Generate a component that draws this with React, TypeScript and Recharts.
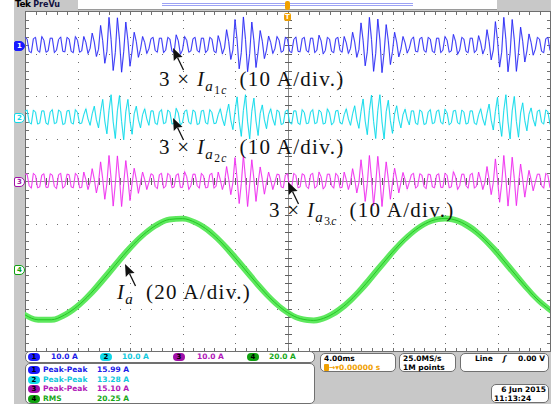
import React from 'react';
import { ComposedChart, Line, Area, XAxis, YAxis } from 'recharts';

// scope: 4.00 ms/div, 10 div, trigger at centre
const T_START = -20;
const T_STEP = 0.16; // ch1..ch3 read every 0.16 ms
const T_STEP_4 = 1; // ch4 read every 1 ms

// ch1 (A) - 3 x Ia1c
const CH1 = [
  1.8, 1.4, -1.5, -1.8, 1.5, 1.8, -1.3, -1.7, 2.0, 1.1, -1.7, -1.4, 1.6, 1.6, -1.8, -1.2, 1.3, 1.9, -1.5, -1.6, 1.8, 1.4, -1.5, -1.8, 2.0, 1.1, -1.7, -1.4,
  2.0, 0.6, -2.0, -0.8, 2.8, 0.7, -2.7, -1.0, 4.6, 1.0, -4.3, -1.5, 6.5, 1.3, -6.0, -1.8, 6.4, 1.2, -6.4, -1.6, 5.4, 1.1, -5.0, -1.4, 3.0, 0.8, -2.9, -1.0, 2.0, 0.6, -2.0, -0.9,
  1.5, 1.8, -1.3, -1.7, 1.6, 1.6, -1.8, -1.2, 1.8, 1.4, -1.5, -1.8, 2.4, 1.0, -2.2, -1.2, 2.0, 1.1, -1.7, -1.4, 1.5, 1.8, -1.3, -1.7, 1.6, 1.6, -1.8, -1.2, 1.8, 1.4, -1.5, -1.8,
  2.2, 0.5, -2.1, -0.7, 3.6, 0.8, -3.4, -1.2, 6.0, 1.2, -5.6, -1.8, 6.6, 1.3, -6.3, -2.0, 5.4, 1.1, -5.3, -1.6, 3.4, 0.9, -3.2, -1.2, 2.1, 0.6, -2.0, -0.9,
  2.0, 1.1, -1.7, -1.4, 1.8, 1.4, -1.5, -1.8, 1.3, 1.9, -1.5, -1.6, 1.5, 1.8, -1.3, -1.7, 1.6, 1.6, -1.8, -1.2, 2.3, 1.0, -2.1, -1.3, 1.8, 1.4, -1.5, -1.8, 1.5, 1.8, -1.3, -1.7,
  2.0, 0.5, -2.0, -0.8, 3.0, 0.7, -2.9, -1.1, 5.2, 1.1, -4.9, -1.6, 6.5, 1.3, -6.2, -2.0, 6.1, 1.2, -6.5, -1.8, 4.8, 1.0, -4.6, -1.5, 3.0, 0.7, -2.8, -1.0, 2.0, 0.5, -1.9, -0.8,
  1.3, 1.9, -1.5, -1.6, 1.5, 1.8, -1.3, -1.7, 1.8, 1.4, -1.5, -1.8, 1.6, 1.6, -1.8, -1.2, 2.0, 1.1, -1.7, -1.4, 2.5, 0.9, -2.2, -1.2, 1.8, 1.4, -1.5, -1.8, 1.6, 1.6, -1.8, -1.2,
  2.2, 0.5, -2.1, -0.8, 3.6, 0.8, -3.5, -1.2, 5.5, 1.1, -5.2, -1.7, 6.5, 1.3, -6.3, -2.0, 6.0, 1.2, -6.2, -1.8, 4.2, 0.9, -4.0, -1.4, 2.6, 0.6, -2.4, -1.0,
  1.8, 1.4, -1.5, -1.8, 1.5, 1.8, -1.3,
];

// ch2 (A) - 3 x Ia2c
const CH2 = [
  1.4, 1.7, -1.2, -1.6, 1.7, 1.2, -1.6, -1.4, 1.5, 1.5, -1.4, -1.7, 1.2, 1.8, -1.5, -1.3, 1.7, 1.3, -1.7, -1.5, 1.5, 1.6, -1.3, -1.6, 1.8, 1.1, -1.5, -1.4,
  0.6, 2.0, -0.4, -1.9, 0.8, 2.6, -0.6, -2.5, 1.3, 4.2, -0.9, -3.9, 1.6, 5.3, -1.1, -5.0, 1.5, 5.1, -1.0, -5.3, 1.3, 4.2, -0.9, -4.0, 0.8, 2.6, -0.6, -2.5, 0.6, 2.0, -0.4, -1.9,
  1.5, 1.5, -1.4, -1.7, 1.2, 1.8, -1.5, -1.3, 1.7, 1.2, -1.6, -1.4, 2.1, 1.0, -1.9, -1.2, 1.4, 1.7, -1.2, -1.6, 1.7, 1.3, -1.7, -1.5, 1.5, 1.6, -1.3, -1.6, 1.8, 1.1, -1.5, -1.4,
  0.6, 2.0, -0.4, -2.0, 0.9, 3.1, -0.7, -2.9, 1.4, 4.8, -1.0, -4.5, 1.6, 5.3, -1.1, -5.1, 1.4, 4.5, -0.9, -4.3, 0.9, 2.9, -0.6, -2.7, 0.6, 2.0, -0.4, -1.9,
  1.7, 1.3, -1.7, -1.5, 1.4, 1.7, -1.2, -1.6, 1.5, 1.5, -1.4, -1.7, 1.8, 1.1, -1.5, -1.4, 1.2, 1.8, -1.5, -1.3, 1.7, 1.2, -1.6, -1.4, 2.0, 1.0, -1.8, -1.2, 1.5, 1.6, -1.3, -1.6,
  0.6, 2.0, -0.4, -1.9, 0.8, 2.7, -0.6, -2.6, 1.3, 4.3, -0.9, -4.1, 1.6, 5.2, -1.0, -5.0, 1.6, 5.3, -1.1, -5.1, 1.3, 4.0, -0.8, -3.8, 0.8, 2.7, -0.6, -2.5, 0.6, 1.9, -0.4, -1.8,
  1.5, 1.5, -1.4, -1.7, 1.7, 1.3, -1.7, -1.5, 1.2, 1.8, -1.5, -1.3, 1.4, 1.7, -1.2, -1.6, 1.9, 1.0, -1.8, -1.3, 1.5, 1.6, -1.3, -1.6, 1.7, 1.2, -1.6, -1.4, 1.5, 1.5, -1.4, -1.7,
  0.6, 2.0, -0.4, -1.9, 0.9, 3.1, -0.7, -3.0, 1.4, 4.7, -1.0, -4.5, 1.6, 5.3, -1.1, -5.1, 1.5, 4.9, -1.0, -4.7, 1.0, 3.4, -0.8, -3.2, 0.7, 2.2, -0.5, -2.1,
  1.4, 1.7, -1.2, -1.6, 1.7, 1.3, -1.7,
];

// ch3 (A) - 3 x Ia3c
const CH3 = [
  1.6, 1.6, -1.1, -1.7, 1.8, 1.3, -1.6, -1.4, 1.4, 1.7, -1.5, -1.5, 1.7, 1.4, -1.3, -1.8, 1.5, 1.8, -1.7, -1.2, 1.6, 1.5, -1.4, -1.6, 1.8, 1.2, -1.6, -1.5,
  2.1, 0.3, -2.0, -0.3, 2.9, 0.4, -2.8, -0.4, 4.5, 0.5, -4.3, -0.6, 6.0, 0.6, -5.9, -0.7, 5.9, 0.6, -6.0, -0.6, 4.8, 0.5, -4.6, -0.5, 3.0, 0.4, -2.9, -0.4, 2.1, 0.3, -2.0, -0.3,
  1.7, 1.4, -1.3, -1.8, 1.5, 1.8, -1.7, -1.2, 1.8, 1.3, -1.6, -1.4, 1.4, 1.7, -1.5, -1.5, 2.2, 1.0, -2.0, -1.1, 1.6, 1.6, -1.1, -1.7, 1.8, 1.2, -1.6, -1.5, 1.5, 1.8, -1.7, -1.2,
  2.1, 0.3, -2.0, -0.3, 3.4, 0.4, -3.2, -0.4, 5.5, 0.6, -5.3, -0.6, 6.0, 0.6, -6.0, -0.7, 5.0, 0.5, -4.8, -0.5, 3.3, 0.4, -3.1, -0.4, 2.1, 0.3, -2.0, -0.3,
  1.6, 1.5, -1.4, -1.6, 1.4, 1.7, -1.5, -1.5, 1.8, 1.3, -1.6, -1.4, 1.7, 1.4, -1.3, -1.8, 1.5, 1.8, -1.7, -1.2, 2.1, 1.0, -1.9, -1.2, 1.6, 1.6, -1.1, -1.7, 1.8, 1.2, -1.6, -1.5,
  2.1, 0.3, -2.0, -0.3, 2.9, 0.4, -2.8, -0.4, 5.0, 0.5, -4.8, -0.6, 6.0, 0.6, -5.8, -0.7, 5.8, 0.6, -6.0, -0.6, 4.5, 0.5, -4.3, -0.5, 3.0, 0.4, -2.8, -0.4, 2.0, 0.3, -1.9, -0.3,
  1.5, 1.8, -1.7, -1.2, 1.7, 1.4, -1.3, -1.8, 1.6, 1.5, -1.4, -1.6, 1.4, 1.7, -1.5, -1.5, 1.8, 1.3, -1.6, -1.4, 2.2, 1.0, -2.0, -1.1, 1.6, 1.6, -1.1, -1.7, 1.5, 1.8, -1.7, -1.2,
  2.1, 0.3, -2.0, -0.3, 3.4, 0.4, -3.2, -0.4, 5.2, 0.5, -5.0, -0.6, 6.0, 0.6, -5.9, -0.7, 5.6, 0.6, -5.8, -0.6, 4.0, 0.4, -3.8, -0.5, 2.5, 0.3, -2.3, -0.3,
  1.6, 1.6, -1.1, -1.7, 1.8, 1.3, -1.6,
];

// ch4 (A) - Ia, mid value and ripple half height
const CH4_MID = [
  -21.4, -23.7, -23.7, -21.5, -17.3, -11.4, -4.4, 3.0, 10.1, 16.2, 20.8, 23.5, 23.9, 22.0, 18.1, 12.4, 5.5, -1.8, -9.0, -15.4,
  -20.3, -23.2, -24.0, -22.4, -18.7, -13.3, -6.6, 0.8, 8.1, 14.6, 19.7, 22.9, 24.0, 22.8, 19.4, 14.2, 7.6, 0.2, -7.1, -13.9, -19.1,
];
const CH4_RIPPLE = [
  1.5, 1.4, 1.4, 1.6, 1.8, 2.1, 2.3, 2.3, 2.1, 1.8, 1.6, 1.4, 1.4, 1.5, 1.8, 2.0, 2.3, 2.3, 2.1, 1.8,
  1.6, 1.4, 1.4, 1.5, 1.8, 2.0, 2.3, 2.3, 2.1, 1.8, 1.6, 1.4, 1.4, 1.5, 1.8, 2.0, 2.3, 2.3, 2.1, 1.8, 1.6,
];

const CH_NAMES = ['1', '2', '3', '4'];
const SCALE_LABELS = ['10.0 A', '10.0 A', '10.0 A', '20.0 A'];
const MEAS_NAMES = ['Peak-Peak', 'Peak-Peak', 'Peak-Peak', 'RMS'];
const MEAS_VALUES = ['15.99 A', '13.28 A', '15.10 A', '20.25 A'];

// layout / style
const A_PER_DIV = [10, 10, 10, 20];
const GND_DIV = [0.8, 2.5, 4.0, 6.08]; // marker position, divisions from the top
const TRACE = ['#2020f4', '#00d8e8', '#ee22ee', '#22c822'];
const HALO = ['#a8a8ff', '#a0f2f8', '#f8b0f8', '#5ee85e'];
const BADGE = ['#1a1aff', '#10d8e8', '#a010a8', '#10a010'];
const TXT = ['#1a1ae8', '#10c8dc', '#b018b8', '#18a818'];
const LEG_BADGE_X = [28, 100, 173, 247];
const LEG_TEXT_X = [51, 122, 197, 269];

const PLOT = { left: 25, top: 11, width: 525, height: 340 };
const MONO = '"DejaVu Sans", sans-serif';

const rowsOf = (vals: number[]) =>
  vals.map((v, i) => ({ t: +(T_START + i * T_STEP).toFixed(2), v }));
const ROWS = [rowsOf(CH1), rowsOf(CH2), rowsOf(CH3)];
const ROWS4 = CH4_MID.map((m, i) => ({
  t: T_START + i * T_STEP_4,
  v: m,
  band: [m - CH4_RIPPLE[i], m + CH4_RIPPLE[i]],
}));

const domainOf = (i: number) => [-(8 - GND_DIV[i]) * A_PER_DIV[i], GND_DIV[i] * A_PER_DIV[i]];

// graticule: 10 x 8 divisions, 5 minor steps each
const DIV_W = PLOT.width / 10;
const DIV_H = PLOT.height / 8;
const range = (n: number) => Array.from({ length: n }, (_, i) => i);

const Graticule = () => {
  const w = PLOT.width;
  const h = PLOT.height;
  const cx = Math.round(w / 2);
  const cy = Math.round(h / 2);
  const minorX = range(51).map((i) => Math.round((i * DIV_W) / 5));
  const minorY = range(41).map((j) => Math.round((j * DIV_H) / 5));
  const dot = '#6e6e6e';
  return (
    <svg width={w + 1} height={h + 1} shapeRendering="crispEdges"
      style={{ position: 'absolute', left: PLOT.left, top: PLOT.top }}>
      <rect x={0} y={0} width={w + 1} height={h + 1} fill="#fff" />
      {range(9).filter((k) => k !== 4).map((k) =>
        minorY.map((y) => <rect key={`vx${k}_${y}`} x={Math.round((k + 1) * DIV_W)} y={y} width={1.4} height={1.4} fill={dot} />)
      )}
      {range(7).filter((k) => k !== 3).map((k) =>
        minorX.map((x) => <rect key={`hy${k}_${x}`} x={x} y={Math.round((k + 1) * DIV_H)} width={1.4} height={1.4} fill={dot} />)
      )}
      <rect x={cx} y={0} width={1} height={h} fill="#8a8a8a" />
      <rect x={0} y={cy} width={w} height={1} fill="#8a8a8a" />
      {minorY.map((y) => (
        <React.Fragment key={'ty' + y}>
          <rect x={cx - 3} y={y} width={7} height={1} fill="#606060" />
          <rect x={0} y={y} width={4} height={1} fill="#707070" />
          <rect x={w - 3} y={y} width={4} height={1} fill="#707070" />
        </React.Fragment>
      ))}
      {minorX.map((x) => (
        <React.Fragment key={'tx' + x}>
          <rect x={x} y={cy - 3} width={1} height={7} fill="#606060" />
          <rect x={x} y={0} width={1} height={4} fill="#707070" />
          <rect x={x} y={h - 3} width={1} height={4} fill="#707070" />
        </React.Fragment>
      ))}
      <rect x={0.5} y={0.5} width={w} height={h} fill="none" stroke="#6e6e6e" />
    </svg>
  );
};

const Badge = ({ i, x, y }: { i: number; x: number; y: number }) => (
  <div
    style={{
      position: 'absolute', left: x, top: y, width: 12, height: 8, borderRadius: 4,
      background: BADGE[i], color: '#000', fontSize: 7, lineHeight: '8px', fontWeight: 700,
      textAlign: 'center', fontFamily: MONO,
    }}
  >
    {CH_NAMES[i]}
  </div>
);

const Note = ({ x, y, pre, sub, post }: { x: number; y: number; pre: string; sub?: string; post: string }) => (
  <div
    style={{
      position: 'absolute', left: x, top: y, whiteSpace: 'nowrap', color: '#111',
      fontFamily: '"Liberation Serif", serif', fontSize: 21, lineHeight: '21px', letterSpacing: 1.3,
    }}
  >
    {pre}
    <i>I</i>
    <span style={{ position: 'relative', top: 5, fontSize: 15, fontStyle: 'italic' }}>
      a
      {sub && (
        <span style={{ position: 'relative', top: 3, fontSize: 11.5 }}>
          <span style={{ fontStyle: 'normal' }}>{sub}</span>c
        </span>
      )}
    </span>
    {'\u2002'}
    {post}
  </div>
);

const Pointer = ({ x, y }: { x: number; y: number }) => (
  <g transform={`translate(${x},${y})`}>
    <path d="M0,0 L0.8,13 L4.2,9.6 L9.6,9 Z" fill="#111" />
    <line x1={4.5} y1={9.5} x2={10.5} y2={22} stroke="#111" strokeWidth={1.3} />
  </g>
);

export default function App() {
  return (
    <div style={{ position: 'absolute', left: 0, top: 0, width: 559, height: 411, background: '#fff', overflow: 'hidden' }}>
      {/* scope frame */}
      <div style={{ position: 'absolute', left: 14, top: 0, width: 537, height: 404, background: '#c8c8c8' }} />
      <div style={{ position: 'absolute', left: 78, top: 0, width: 419, height: 9, background: '#fff', borderBottom: '1px solid #9a9a9a' }} />
      <div style={{ position: 'absolute', left: 162, top: 3, width: 251, height: 1, borderTop: '1px solid #9ca2f4', borderBottom: '1px solid #9ca2f4' }} />
      <div style={{ position: 'absolute', left: 15, top: -1, fontFamily: MONO, fontSize: 9, fontWeight: 700, color: '#000', letterSpacing: -0.5 }}>
        Tek <span style={{ fontSize: 8, color: '#101040', letterSpacing: 0 }}>PreVu</span>
      </div>

      <Graticule />

      <div style={{ position: 'absolute', left: PLOT.left, top: PLOT.top }}>
        <ComposedChart width={PLOT.width} height={PLOT.height} margin={{ top: 0, right: 0, bottom: 0, left: 0 }} style={{ overflow: 'visible' }}>
          <XAxis dataKey="t" type="number" domain={[-20, 20]} allowDataOverflow hide />
          {[0, 1, 2, 3].map((i) => (
            <YAxis key={i} yAxisId={'c' + i} type="number" domain={domainOf(i)} allowDataOverflow hide />
          ))}
          <Area data={ROWS4} yAxisId="c3" dataKey="band" type="monotone" stroke="none" fill={HALO[3]} fillOpacity={1} isAnimationActive={false} />
          <Line data={ROWS4} yAxisId="c3" dataKey="v" type="monotone" stroke={TRACE[3]} strokeWidth={1} dot={false} isAnimationActive={false} />
          {[2, 1, 0].map((i) => (
            <Line key={'h' + i} data={ROWS[i]} yAxisId={'c' + i} dataKey="v" type="linear" stroke={HALO[i]} strokeWidth={1.5}
              strokeOpacity={0.45} dot={false} isAnimationActive={false} />
          ))}
          {[2, 1, 0].map((i) => (
            <Line key={'l' + i} data={ROWS[i]} yAxisId={'c' + i} dataKey="v" type="linear" stroke={TRACE[i]} strokeWidth={0.85}
              dot={false} isAnimationActive={false} />
          ))}
        </ComposedChart>
      </div>

      {/* trigger marker */}
      <div style={{ position: 'absolute', left: 285, top: 1, width: 5, height: 9, background: '#f0a000', borderRadius: 2 }} />
      <div style={{ position: 'absolute', left: 284, top: 13, width: 7, height: 8, background: '#f0a000', borderRadius: 2, color: '#fff',
        fontFamily: MONO, fontSize: 7, lineHeight: '8px', fontWeight: 700, textAlign: 'center' }}>T</div>

      {/* channel ground markers */}
      {[0, 1, 2, 3].map((i) => (
        <div key={'m' + i}
          style={{
            position: 'absolute', left: 14, top: PLOT.top + GND_DIV[i] * DIV_H - 4.5, width: 9, height: 8,
            background: i === 0 ? BADGE[0] : '#fff', border: `1px solid ${BADGE[i]}`, borderRadius: '2px 5px 5px 2px',
            color: i === 0 ? '#fff' : BADGE[i], fontFamily: MONO, fontSize: 7, lineHeight: '8px', fontWeight: 700, textAlign: 'center',
          }}
        >
          {CH_NAMES[i]}
        </div>
      ))}

      {/* scale bar */}
      <div style={{ position: 'absolute', left: 25, top: 351, width: 288, height: 10, background: '#fff', border: '1px solid #707070', borderRadius: 5 }} />
      {[0, 1, 2, 3].map((i) => (
        <React.Fragment key={'s' + i}>
          <Badge i={i} x={LEG_BADGE_X[i]} y={353} />
          <div style={{ position: 'absolute', left: LEG_TEXT_X[i], top: 352, fontFamily: MONO, fontSize: 7.5, lineHeight: '10px', fontWeight: 700, color: TXT[i] }}>
            {SCALE_LABELS[i]}
          </div>
        </React.Fragment>
      ))}

      {/* measurements */}
      <div style={{ position: 'absolute', left: 25, top: 363, width: 288, height: 39, background: '#fff', border: '1px solid #707070', borderRadius: 5 }} />
      {[0, 1, 2, 3].map((i) => (
        <React.Fragment key={'r' + i}>
          <Badge i={i} x={28} y={366 + i * 9.6} />
          <div style={{ position: 'absolute', left: 43, top: 365 + i * 9.6, fontFamily: MONO, fontSize: 7.5, lineHeight: '10px', fontWeight: 700, color: TXT[i] }}>
            {MEAS_NAMES[i]}
          </div>
          <div style={{ position: 'absolute', left: 97, top: 365 + i * 9.6, fontFamily: MONO, fontSize: 7.5, lineHeight: '10px', fontWeight: 700, color: TXT[i] }}>
            {MEAS_VALUES[i]}
          </div>
        </React.Fragment>
      ))}

      {/* horizontal / acquisition / trigger */}
      <div style={{ position: 'absolute', left: 320, top: 353, width: 76, height: 19, background: '#fff', border: '1px solid #707070', borderRadius: 5,
        fontFamily: MONO, fontSize: 7.5, lineHeight: '9px', fontWeight: 700, paddingLeft: 3, boxSizing: 'border-box' }}>
        <div style={{ color: '#000' }}>4.00ms</div>
        <div style={{ color: '#f0a000', whiteSpace: 'nowrap' }}>
          <span style={{ display: 'inline-block', width: 5, height: 7, background: '#f0a000', borderRadius: 1, verticalAlign: -1 }} />
          {'\u2192\u25BE0.00000 s'}
        </div>
      </div>
      <div style={{ position: 'absolute', left: 399, top: 353, width: 57, height: 19, background: '#fff', border: '1px solid #707070', borderRadius: 5,
        fontFamily: MONO, fontSize: 7.5, lineHeight: '9px', fontWeight: 700, paddingLeft: 3, boxSizing: 'border-box', color: '#000' }}>
        <div>25.0MS/s</div>
        <div>1M points</div>
      </div>
      <div style={{ position: 'absolute', left: 460, top: 353, width: 89, height: 19, background: '#fff', border: '1px solid #707070', borderRadius: 5,
        fontFamily: MONO, fontSize: 7.5, lineHeight: '9px', fontWeight: 700, boxSizing: 'border-box', color: '#000' }}>
        <span style={{ position: 'absolute', left: 14, top: 0 }}>Line</span>
        <span style={{ position: 'absolute', left: 42, top: 0, fontStyle: 'italic' }}>{'\u0283'}</span>
        <span style={{ position: 'absolute', right: 3, top: 0 }}>0.00 V</span>
      </div>
      <div style={{ position: 'absolute', left: 491, top: 384, width: 58, height: 19, background: '#fff', border: '1px solid #707070', borderRadius: 5,
        fontFamily: MONO, fontSize: 7.5, lineHeight: '9px', fontWeight: 700, boxSizing: 'border-box', color: '#000' }}>
        <div style={{ textAlign: 'right', paddingRight: 2 }}>6 Jun 2015</div>
        <div style={{ paddingLeft: 2 }}>11:13:24</div>
      </div>

      {/* annotations */}
      <svg width={559} height={411} style={{ position: 'absolute', left: 0, top: 0, pointerEvents: 'none' }}>
        <Pointer x={173} y={48} />
        <Pointer x={173} y={118} />
        <Pointer x={288} y={182} />
        <Pointer x={125} y={264} />
      </svg>
      <Note x={159} y={69} pre={'3 \u00D7 '} sub="1" post="(10 A/div.)" />
      <Note x={159} y={137} pre={'3 \u00D7 '} sub="2" post="(10 A/div.)" />
      <Note x={269} y={200} pre={'3 \u00D7 '} sub="3" post="(10 A/div.)" />
      <Note x={117} y={282} pre="" post="(20 A/div.)" />
    </div>
  );
}
